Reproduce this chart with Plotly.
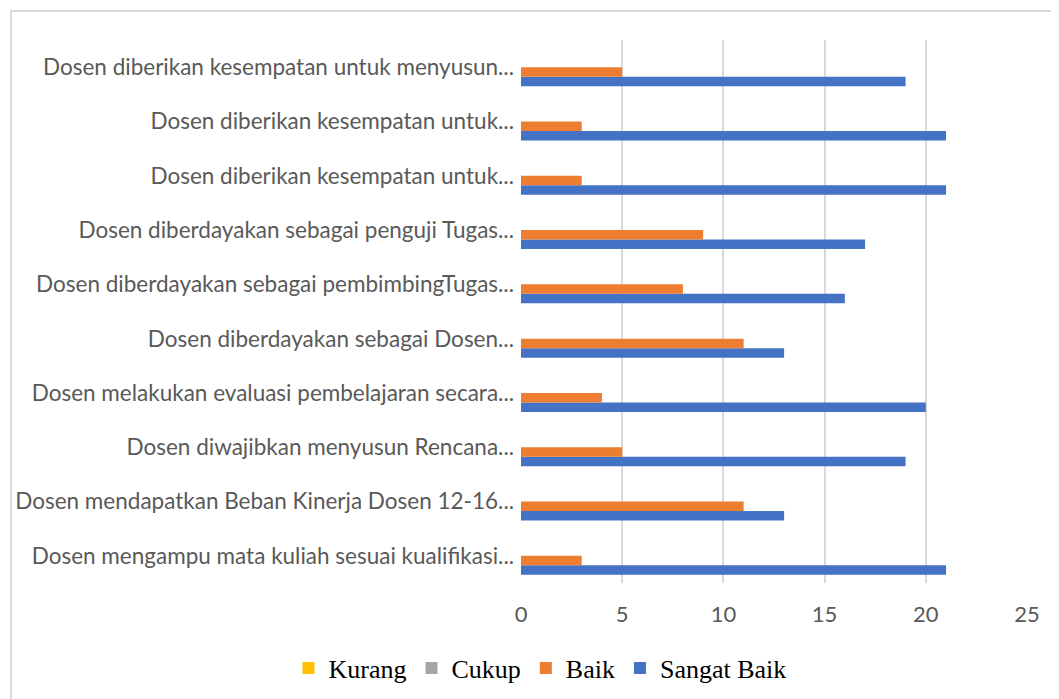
import plotly.graph_objects as go

categories = [
    "Dosen mengampu mata kuliah sesuai kualifikasi...",
    "Dosen mendapatkan Beban Kinerja Dosen 12-16...",
    "Dosen diwajibkan menyusun Rencana...",
    "Dosen melakukan evaluasi pembelajaran secara...",
    "Dosen diberdayakan sebagai Dosen...",
    "Dosen diberdayakan sebagai pembimbingTugas...",
    "Dosen diberdayakan sebagai penguji Tugas...",
    "Dosen diberikan kesempatan untuk...",
    "Dosen diberikan kesempatan untuk...",
    "Dosen diberikan kesempatan untuk menyusun...",
]
kurang = [0, 0, 0, 0, 0, 0, 0, 0, 0, 0]
cukup = [0, 0, 0, 0, 0, 0, 0, 0, 0, 0]
baik = [3, 11, 5, 4, 11, 8, 9, 3, 3, 5]
sangat_baik = [21, 13, 19, 20, 13, 16, 17, 21, 21, 19]
x_ticks = [0, 5, 10, 15, 20, 25]

positions = list(range(len(categories)))

OFF = 8  # page body margin
W, H = 1059 - OFF, 699 - OFF
ml, mt = 521 - OFF, 40 - OFF
pw, ph = 506, 543
mr, mb = W - ml - pw, H - mt - ph

fig = go.Figure()
series = [
    ("Sangat Baik", sangat_baik, "#4472C4"),
    ("Baik", baik, "#ED7D31"),
    ("Cukup", cukup, "#A5A5A5"),
    ("Kurang", kurang, "#FFC000"),
]
for name, vals, color in series:
    fig.add_trace(go.Bar(
        y=positions, x=vals, name=name, orientation="h",
        marker=dict(color=color, line=dict(width=0)),
    ))

def px_to_paper_x(px):
    return (px - OFF - ml) / pw

def px_to_paper_y(py):
    return (mt + ph - (py - OFF)) / ph

fig.add_shape(type="rect", xref="paper", yref="paper",
              x0=px_to_paper_x(11), x1=px_to_paper_x(1070),
              y0=px_to_paper_y(710), y1=px_to_paper_y(11),
              line=dict(color="#d9d9d9", width=2), layer="below")

fig.update_layout(
    width=W, height=H,
    margin=dict(l=ml, r=mr, t=mt, b=mb, autoexpand=False),
    paper_bgcolor="white", plot_bgcolor="white",
    barmode="group", bargap=0.3, bargroupgap=0,
    showlegend=True,
    legend=dict(orientation="h", traceorder="reversed",
                xref="container", yref="container",
                x=(540 - OFF) / W, xanchor="center",
                y=1 - (668 - OFF) / H, yanchor="middle",
                font=dict(family="Liberation Serif", size=26, color="#000000")),
    xaxis=dict(range=[0, 25], tickvals=x_ticks, showgrid=True,
               gridcolor="#d9d9d9", gridwidth=1.5, zeroline=False,
               showline=False, ticks="", ticklabelstandoff=16,
               tickfont=dict(family="Lato", size=22, color="#595959")),
    yaxis=dict(range=[-0.5, 9.5], tickvals=positions, ticktext=categories,
               showgrid=False, zeroline=False, showline=False, ticks="",
               ticklabelstandoff=6,
               tickfont=dict(family="Lato", size=22.5, color="#595959")),
)

fig.write_html("out.html")
